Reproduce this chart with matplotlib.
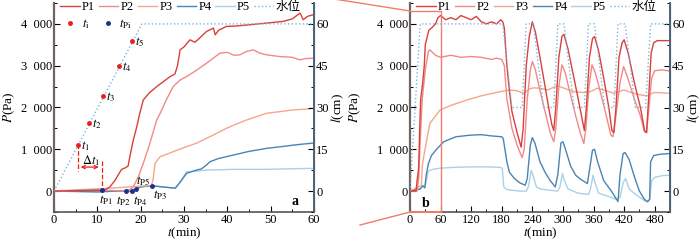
import numpy as np
import matplotlib
matplotlib.use('Agg')
import matplotlib.pyplot as plt
from matplotlib.lines import Line2D
from matplotlib.ticker import MultipleLocator, FuncFormatter

plt.rcParams['font.family'] = ['Liberation Serif', 'Noto Sans CJK SC', 'DejaVu Serif']
plt.rcParams['mathtext.fontset'] = 'stix'
plt.rcParams['font.size'] = 9.5

# ---------------- panel a (0-60 min) ----------------
a_p1_t = [0, 5, 10, 11, 12, 12.9, 14.1, 15, 15.6, 16.5, 17.1, 17.5, 18.3, 19.1, 19.8, 20.6, 22, 23.7, 25, 26.8,
          27.9, 28.5, 29.1, 30, 31.4, 32.5, 33.5, 35.2, 36.8, 37.2, 38, 39.8, 42, 45.2, 49.1, 52.9, 55, 56.8, 57.5,
          58.5, 59.8, 60]
a_p1 = [0, 10, 20, 20, 40, 100, 260, 420, 520, 560, 600, 820, 1220, 1540, 1860, 2180, 2350, 2500, 2600, 2740,
        2800, 3000, 3380, 3450, 3620, 3560, 3650, 3820, 3900, 3740, 3850, 3940, 3950, 3980, 4020, 4060, 4120, 4260,
        4100, 4180, 4220, 4230]
a_p2_t = [0, 10, 16.5, 17.5, 18.3, 19.5, 20.6, 22, 23.7, 24.5, 26, 27.5, 29, 30.6, 33, 35.2, 37, 38.3, 40, 41.5,
          42.9, 44.4, 46, 47.5, 49.1, 52, 55, 56.8, 58, 60]
a_p2 = [0, 30, 0, 40, 104, 350, 663, 1100, 1700, 1860, 2200, 2500, 2650, 2740, 2900, 3060, 3200, 3300, 3320, 3250,
        3260, 3340, 3380, 3300, 3260, 3220, 3200, 3140, 3170, 3180]
a_p3_t = [0, 5, 11, 16, 20, 22.5, 22.9, 23.3, 24.5, 26, 27.5, 30.6, 33, 35.2, 37.5, 39.8, 42, 44.4, 47, 49.1, 52,
          55.2, 58, 60]
a_p3 = [0, 30, 60, 90, 120, 130, 300, 663, 823, 880, 943, 1063, 1150, 1263, 1380, 1503, 1600, 1700, 1790, 1863,
        1900, 1942, 1960, 1983]
a_p4_t = [0, 5, 10, 12, 15, 17.9, 18.9, 20, 22.5, 25, 28, 29, 30.6, 32.9, 34, 35.2, 36, 38, 41.4, 45, 49.1, 53, 56, 60]
a_p4 = [0, -10, -20, -10, 0, 0, 50, 100, 130, 100, 70, 200, 424, 504, 530, 624, 703, 780, 863, 950, 1023, 1070,
        1110, 1150]
a_p5_t = [0, 5, 10, 15, 18.9, 20, 22.5, 25, 28, 29, 30.6, 33, 35.2, 38, 41.4, 45, 49.1, 55, 60]
a_p5 = [0, -5, -15, 0, 50, 100, 130, 100, 70, 200, 463, 480, 504, 510, 520, 520, 520, 535, 544]
a_level_t = [0, 20.3, 60]
a_level = [0, 60, 60]

# onset points
ti_t = [5.5, 8.15, 11.4, 15.0, 18.0]
ti_l = [16.5, 24.5, 34.2, 45.0, 54.0]
ti_names = ['1', '2', '3', '4', '5']
tp_t = [11.0, 16.5, 22.5, 17.9, 18.9]
tp_p = [20, 0, 130, 0, 50]
tp_names = ['P1', 'P2', 'P3', 'P4', 'P5']

# ---------------- panel b (0-510 min) ----------------
b_p1_t = [0, 12, 14, 17, 19, 21, 25, 28, 30, 33, 37, 42, 50, 55, 60, 70, 80, 90, 100, 110, 120, 130, 140, 150,
          160, 170, 178, 182, 185, 190, 195, 200, 210, 218, 222, 228, 234, 240, 246, 255, 265, 272, 278, 282, 286,
          292, 298, 302, 310, 320, 330, 338, 342, 346, 352, 358, 362, 370, 380, 390, 396, 400, 404, 410, 416, 420,
          428, 440, 452, 460, 464, 468, 473, 478, 485, 510]
b_p1 = [0, 20, 260, 550, 1500, 2200, 2600, 3000, 3500, 3650, 3850, 3900, 4000, 4150, 4200, 4100, 4150, 4100, 4200,
        4150, 4100, 4180, 4050, 4000, 4050, 4000, 4100, 4050, 3900, 3000, 2400, 1900, 1400, 1050, 1500, 3000, 3700,
        4050, 3800, 3200, 2500, 2000, 1600, 1450, 2000, 3200, 3700, 3750, 3400, 2800, 2200, 1700, 1450, 2000, 3200,
        3650, 3700, 3350, 2700, 2000, 1450, 1400, 2000, 3200, 3550, 3620, 3300, 2600, 2000, 1450, 1400, 2200, 3300,
        3550, 3600, 3600]
b_p2_t = [0, 14, 17, 20, 24, 30, 36, 39, 50, 60, 80, 100, 120, 140, 160, 170, 180, 185, 190, 200, 210, 220, 224,
          230, 236, 240, 246, 255, 265, 275, 282, 286, 292, 298, 304, 315, 325, 335, 341, 345, 351, 357, 363, 375,
          385, 394, 398, 404, 412, 419, 426, 440, 452, 460, 464, 468, 474, 480, 495, 510]
b_p2 = [0, 0, 300, 1200, 2200, 2900, 3340, 3380, 3250, 3200, 3250, 3200, 3220, 3200, 3150, 3180, 3150, 3000, 2200,
        1500, 1100, 800, 1000, 2200, 2900, 3100, 2900, 2400, 1900, 1400, 1180, 1500, 2500, 3020, 2850, 2300, 1800,
        1350, 1140, 1500, 2500, 3020, 2850, 2300, 1800, 1340, 1300, 1800, 2600, 2980, 2750, 2200, 1800, 1420,
        1400, 1900, 2700, 2880, 2900, 2870]
b_p3_t = [0, 20, 22.5, 24, 28, 39, 59, 80, 112, 140, 177, 197, 210, 223, 235, 243, 256, 270, 289, 305, 321, 340,
          354, 367, 385, 400, 420, 440, 453, 465, 479, 510]
b_p3 = [0, 120, 130, 600, 900, 1620, 1940, 2050, 2180, 2280, 2380, 2420, 2400, 2340, 2450, 2470, 2460, 2420, 2520,
        2450, 2380, 2360, 2380, 2460, 2400, 2340, 2420, 2330, 2300, 2280, 2360, 2340]
b_p4_t = [0, 20, 25, 29, 32, 36, 42, 52, 66, 90, 120, 140, 160, 180, 183, 190, 195, 205, 215, 226, 230, 236, 240,
          245, 255, 265, 275, 285, 290, 296, 300, 305, 315, 325, 335, 348, 352, 358, 362, 368, 380, 395, 408, 412,
          418, 422, 430, 440, 450, 460, 466, 470, 472, 478, 490, 510]
b_p4 = [0, 50, 130, 80, 400, 650, 850, 1000, 1180, 1300, 1340, 1350, 1320, 1300, 1250, 700, 450, 300, 200, 140,
        300, 1100, 1280, 1150, 700, 450, 250, 100, 400, 1150, 1180, 1000, 600, 380, 280, 180, 500, 980, 1000, 700,
        250, 0, -250, 400, 900, 920, 750, 350, 0, -200, -250, -200, 700, 850, 880, 900]
b_p5_t = [0, 20, 25, 29, 33, 36, 45, 60, 90, 120, 150, 175, 181, 184, 190, 200, 215, 228, 232, 238, 242, 248, 256,
          275, 290, 294, 299, 303, 310, 330, 350, 354, 359, 363, 370, 390, 405, 412, 418, 423, 430, 445, 460, 466,
          470, 474, 480, 495, 510]
b_p5 = [0, 50, 130, 80, 300, 480, 520, 550, 570, 580, 580, 570, 550, 100, 40, 20, 0, 0, 100, 500, 350, 100, 50, 20,
        0, 100, 420, 250, 50, -50, -80, 50, 380, 200, -50, -130, -200, -150, 200, 300, 50, -100, -230, -260, -200,
        250, 330, 370, 380]
b_level_t = [0, 20, 182, 200, 220, 228, 242, 262, 282, 290, 302, 322, 342, 350, 362, 382, 400, 408, 422, 442, 462,
             472, 510]
b_level = [0, 60, 60, 30, 30, 60, 60, 30, 30, 60, 60, 30, 30, 60, 60, 30, 30, 60, 60, 30, 30, 60, 60]

c_p1 = '#d8403c'
c_p2 = '#f08a86'
c_p3 = '#f5a68c'
c_p4 = '#4a84b4'
c_p5 = '#a9d1e8'
c_lv = '#7ab6df'
c_box = '#f07c6c'


def thousands(v, pos):
    v = int(round(v))
    if abs(v) >= 1000:
        return '{}\u2002{:03d}'.format(v // 1000, v % 1000)
    return str(v)


def style_axes(ax, axr, xmax, xmaj, xmin, ylab_x):
    ax.set_ylim(-500, 4500)
    axr.set_ylim(-7.5, 67.5)
    ax.set_xlim(0, xmax)
    ax.xaxis.set_major_locator(MultipleLocator(xmaj))
    ax.xaxis.set_minor_locator(MultipleLocator(xmin))
    ax.yaxis.set_minor_locator(MultipleLocator(500))
    ax.yaxis.set_major_formatter(FuncFormatter(thousands))
    ax.set_yticks([0, 1000, 2000, 3000, 4000])
    axr.set_yticks([0, 15, 30, 45, 60])
    axr.yaxis.set_minor_locator(MultipleLocator(7.5))
    for a in (ax, axr):
        a.spines['top'].set_visible(False)
        a.tick_params(which='major', direction='in', length=4, width=0.8, labelsize=9, pad=1.5)
        a.tick_params(which='minor', direction='in', length=2.2, width=0.7)
    ax.spines['left'].set_color('#6e6460')
    ax.spines['left'].set_linewidth(1.6)
    ax.spines['bottom'].set_color('#555555')
    ax.spines['bottom'].set_linewidth(1.2)
    axr.spines['right'].set_color('#4c6578')
    axr.spines['right'].set_linewidth(1.4)
    axr.spines['left'].set_visible(False)
    axr.spines['bottom'].set_visible(False)
    ax.set_ylabel('$P$(Pa)', fontsize=9.5)
    ax.set_xlabel('$t$(min)', fontsize=9.5)
    axr.set_ylabel('$l$(cm)', fontsize=9.5)
    ax.xaxis.set_label_coords(0.5, -0.067)
    ax.yaxis.set_label_coords(ylab_x, 0.5)
    axr.yaxis.set_label_coords(1.058, 0.5)


def add_legend(ax, with_points):
    handles = [Line2D([], [], color=c_p1, lw=1.0), Line2D([], [], color=c_p2, lw=1.0),
               Line2D([], [], color=c_p3, lw=1.0), Line2D([], [], color=c_p4, lw=1.0),
               Line2D([], [], color=c_p5, lw=1.0), Line2D([], [], color=c_lv, lw=1.0, ls=':')]
    labels = ['P1', 'P2', 'P3', 'P4', 'P5', '水位']
    leg = ax.legend(handles, labels, ncol=6, loc='upper left', bbox_to_anchor=(0.0, 1.04), frameon=False,
                    fontsize=9, handlelength=1.55, handletextpad=0.2, columnspacing=0.3, borderaxespad=0.1)
    if with_points:
        ax.add_artist(leg)
        hp = [Line2D([], [], color='#e8201c', marker='o', ms=2.5, ls='none'),
              Line2D([], [], color='#1c2f8c', marker='o', ms=2.5, ls='none')]
        ax.legend(hp, ['$t_{\\mathrm{i}}$', '$t_{\\mathrm{Pi}}$'], ncol=2, loc='upper left',
                  bbox_to_anchor=(0.0, 0.96), frameon=False, fontsize=9, handlelength=1.55,
                  handletextpad=0.15, columnspacing=0.7, borderaxespad=0.1)


fig = plt.figure(figsize=(7, 2.4), dpi=100)

# ---- panel a ----
ax1 = fig.add_axes([54 / 700, 28 / 240, 260 / 700, 209 / 240])
ax1r = ax1.twinx()
ax1.plot(a_p5_t, a_p5, color=c_p5, lw=1.0)
ax1.plot(a_p4_t, a_p4, color=c_p4, lw=1.0)
ax1.plot(a_p3_t, a_p3, color=c_p3, lw=1.0)
ax1.plot(a_p2_t, a_p2, color=c_p2, lw=1.0)
ax1.plot(a_p1_t, a_p1, color=c_p1, lw=1.0)
ax1r.plot(a_level_t, a_level, color=c_lv, lw=1.0, ls=':')
ax1r.plot(ti_t, ti_l, 'o', color='#e8201c', ms=2.5)
ax1.plot(tp_t, tp_p, 'o', color='#1c2f8c', ms=2.5, zorder=5)
style_axes(ax1, ax1r, 60, 10, 5, -0.142)

for t, l, n in zip(ti_t, ti_l, ti_names):
    ax1r.annotate('$t_{%s}$' % n, (t, l), xytext=(2, -1), textcoords='offset points', fontsize=9,
                  ha='left', va='center')
tp_off = {'P1': (-2, -2, 'top'), 'P2': (-7, -2, 'top'), 'P3': (1, -2, 'top'), 'P4': (1, -2, 'top'),
          'P5': (0, 1, 'bottom')}
for t, p, n in zip(tp_t, tp_p, tp_names):
    dx, dy, va = tp_off[n]
    ax1.annotate('$t_{\\mathrm{%s}}$' % n, (t, p), xytext=(dx, dy), textcoords='offset points', fontsize=9,
                 ha='left', va=va)

# delta t1 annotation
ax1.plot([ti_t[0], ti_t[0]], [1130, 470], color='#e8201c', lw=0.9, ls='--')
ax1.plot([tp_t[0], tp_t[0]], [720, 30], color='#e8201c', lw=0.9, ls='--')
ax1.annotate('', xy=(ti_t[0], 575), xytext=(tp_t[0], 575),
             arrowprops=dict(arrowstyle='<->', color='#e8201c', lw=0.9, mutation_scale=6))
ax1.text(8.6, 720, '$\\Delta t_1$', fontsize=9, ha='center', va='center')
ax1.text(55.7, -250, 'a', fontsize=10, fontweight='bold', ha='center', va='center')
add_legend(ax1, True)

# ---- panel b ----
ax2 = fig.add_axes([410 / 700, 28 / 240, 260 / 700, 209 / 240])
ax2r = ax2.twinx()
ax2.plot(b_p5_t, b_p5, color=c_p5, lw=1.0)
ax2.plot(b_p4_t, b_p4, color=c_p4, lw=1.0)
ax2.plot(b_p3_t, b_p3, color=c_p3, lw=1.0)
ax2.plot(b_p2_t, b_p2, color=c_p2, lw=1.0)
ax2.plot(b_p1_t, b_p1, color=c_p1, lw=1.0)
ax2r.plot(b_level_t, b_level, color=c_lv, lw=1.0, ls=':')
style_axes(ax2, ax2r, 510, 60, 30, -0.18)
ax2.plot([0, 60, 60], [4320, 4320, -500], color=c_box, lw=1.0, clip_on=False, zorder=6)
ax2.plot([0, 60], [-500, -500], color=c_box, lw=1.4, clip_on=False, zorder=6)
ax2.text(31, -290, 'b', fontsize=10, fontweight='bold', ha='center', va='center')
add_legend(ax2, False)

# zoom connector lines
fig.add_artist(Line2D([334 / 700, 410 / 700], [1 + 1 / 240, 1 - 11 / 240], color=c_box, lw=1.0,
                      transform=fig.transFigure))
fig.add_artist(Line2D([360 / 700, 410 / 700], [1 - 225 / 240, 1 - 212 / 240], color=c_box, lw=1.0,
                      transform=fig.transFigure))

fig.savefig('out.png', dpi=100)
